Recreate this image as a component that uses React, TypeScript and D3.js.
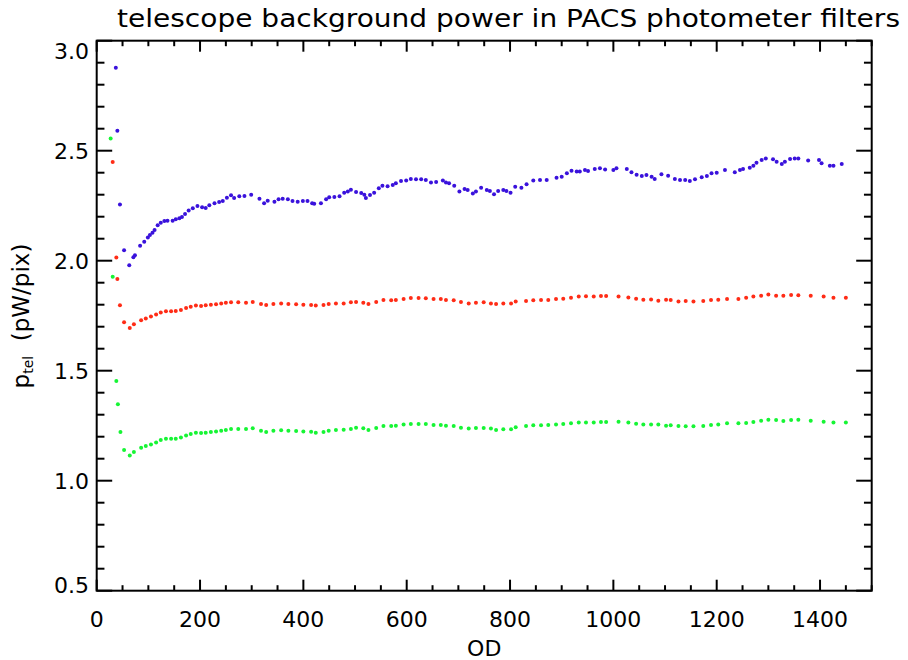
import React from "react";
import * as d3 from "d3";

// ---------- data ----------
const TITLE = "telescope background power in PACS photometer filters";
const X_LABEL = "OD";
const X_DOMAIN = [0, 1500];
const Y_DOMAIN = [0.5, 3.0];
const X_TICKS = [0, 200, 400, 600, 800, 1000, 1200, 1400];
const Y_TICKS = [0.5, 1.0, 1.5, 2.0, 2.5, 3.0];

const blueOD = [37, 40, 45, 53, 63, 71, 74, 84, 92, 99, 103, 108, 112, 118, 124, 131, 137, 147, 153, 160, 165, 171, 178, 186, 195, 204, 211, 218, 228, 237, 244, 252, 260, 266, 276, 286, 299, 315, 324, 331, 344, 352, 360, 370, 379, 389, 399, 408, 417, 421, 434, 444, 450, 460, 470, 479, 486, 492, 502, 512, 518, 521, 529, 537, 546, 553, 563, 573, 579, 589, 599, 608, 618, 628, 637, 647, 657, 670, 676, 682, 692, 702, 712, 718, 728, 734, 744, 755, 761, 769, 777, 787, 793, 801, 810, 822, 832, 845, 858, 871, 890, 900, 910, 919, 929, 935, 945, 951, 964, 974, 984, 1000, 1006, 1026, 1035, 1045, 1055, 1064, 1074, 1080, 1093, 1106, 1119, 1129, 1139, 1148, 1158, 1171, 1181, 1190, 1200, 1216, 1235, 1245, 1251, 1264, 1271, 1277, 1287, 1295, 1309, 1316, 1326, 1332, 1342, 1351, 1358, 1377, 1398, 1403, 1419, 1426, 1442];
const bluePower = [2.877, 2.591, 2.256, 2.047, 1.979, 2.016, 2.025, 2.068, 2.086, 2.106, 2.117, 2.127, 2.140, 2.161, 2.173, 2.180, 2.182, 2.182, 2.188, 2.193, 2.199, 2.212, 2.228, 2.238, 2.249, 2.243, 2.240, 2.252, 2.261, 2.267, 2.271, 2.286, 2.297, 2.285, 2.293, 2.294, 2.300, 2.282, 2.261, 2.273, 2.268, 2.279, 2.282, 2.279, 2.271, 2.268, 2.271, 2.271, 2.261, 2.259, 2.261, 2.279, 2.288, 2.290, 2.293, 2.309, 2.315, 2.323, 2.312, 2.308, 2.300, 2.285, 2.299, 2.309, 2.329, 2.341, 2.338, 2.344, 2.352, 2.362, 2.364, 2.371, 2.370, 2.370, 2.367, 2.356, 2.358, 2.365, 2.356, 2.352, 2.341, 2.314, 2.326, 2.321, 2.306, 2.315, 2.332, 2.321, 2.317, 2.302, 2.317, 2.321, 2.317, 2.309, 2.336, 2.332, 2.347, 2.364, 2.367, 2.367, 2.377, 2.382, 2.397, 2.409, 2.405, 2.405, 2.412, 2.408, 2.417, 2.420, 2.415, 2.412, 2.420, 2.417, 2.402, 2.391, 2.385, 2.390, 2.382, 2.371, 2.393, 2.386, 2.371, 2.367, 2.367, 2.362, 2.370, 2.379, 2.385, 2.397, 2.400, 2.412, 2.402, 2.412, 2.417, 2.423, 2.432, 2.445, 2.458, 2.465, 2.461, 2.450, 2.440, 2.450, 2.462, 2.465, 2.464, 2.455, 2.458, 2.443, 2.432, 2.432, 2.440];

const redOD = [31, 38, 40, 45, 53, 64, 72, 86, 95, 105, 115, 124, 134, 144, 153, 163, 173, 182, 192, 202, 211, 221, 231, 241, 250, 260, 274, 289, 302, 318, 328, 342, 357, 371, 386, 400, 415, 424, 439, 449, 463, 478, 492, 502, 516, 526, 541, 555, 570, 579, 594, 608, 623, 637, 652, 666, 676, 691, 705, 720, 734, 749, 763, 773, 787, 802, 811, 831, 845, 860, 874, 889, 903, 918, 933, 947, 962, 976, 986, 1010, 1029, 1044, 1058, 1073, 1087, 1102, 1111, 1126, 1140, 1155, 1174, 1189, 1203, 1220, 1242, 1257, 1271, 1286, 1300, 1315, 1329, 1344, 1358, 1382, 1407, 1426, 1450];
const redPower = [2.449, 2.015, 1.917, 1.797, 1.720, 1.694, 1.711, 1.729, 1.737, 1.746, 1.756, 1.765, 1.770, 1.770, 1.771, 1.776, 1.785, 1.791, 1.796, 1.794, 1.797, 1.800, 1.802, 1.805, 1.809, 1.811, 1.811, 1.809, 1.812, 1.803, 1.799, 1.803, 1.805, 1.803, 1.802, 1.800, 1.799, 1.796, 1.799, 1.803, 1.806, 1.806, 1.811, 1.812, 1.809, 1.803, 1.812, 1.821, 1.820, 1.821, 1.826, 1.830, 1.830, 1.829, 1.826, 1.826, 1.821, 1.820, 1.812, 1.806, 1.809, 1.811, 1.806, 1.803, 1.806, 1.805, 1.815, 1.817, 1.820, 1.821, 1.821, 1.826, 1.827, 1.832, 1.837, 1.838, 1.837, 1.840, 1.840, 1.837, 1.833, 1.827, 1.823, 1.824, 1.818, 1.823, 1.821, 1.815, 1.817, 1.815, 1.817, 1.821, 1.823, 1.826, 1.826, 1.832, 1.837, 1.841, 1.846, 1.841, 1.841, 1.844, 1.843, 1.841, 1.837, 1.832, 1.832];

const greenOD = [27, 31, 38, 41, 46, 53, 64, 72, 86, 95, 105, 115, 124, 134, 144, 153, 163, 173, 182, 192, 202, 211, 221, 231, 241, 250, 260, 274, 289, 302, 318, 328, 342, 357, 371, 386, 400, 415, 424, 439, 449, 463, 478, 492, 502, 516, 526, 541, 555, 570, 579, 594, 608, 623, 637, 652, 666, 676, 691, 705, 720, 734, 749, 763, 773, 787, 802, 811, 831, 845, 860, 874, 889, 903, 918, 933, 947, 962, 976, 986, 1010, 1029, 1044, 1058, 1073, 1087, 1102, 1111, 1126, 1140, 1155, 1174, 1189, 1203, 1220, 1242, 1257, 1271, 1286, 1300, 1315, 1329, 1344, 1358, 1382, 1407, 1426, 1450];
const greenPower = [2.555, 1.927, 1.453, 1.347, 1.221, 1.140, 1.114, 1.130, 1.150, 1.158, 1.165, 1.174, 1.185, 1.191, 1.191, 1.191, 1.196, 1.205, 1.212, 1.218, 1.217, 1.218, 1.221, 1.224, 1.227, 1.230, 1.235, 1.235, 1.235, 1.238, 1.227, 1.221, 1.227, 1.229, 1.227, 1.226, 1.224, 1.223, 1.218, 1.221, 1.227, 1.230, 1.232, 1.235, 1.241, 1.238, 1.230, 1.240, 1.249, 1.249, 1.250, 1.255, 1.258, 1.258, 1.258, 1.253, 1.253, 1.250, 1.249, 1.241, 1.237, 1.240, 1.240, 1.237, 1.230, 1.234, 1.234, 1.243, 1.249, 1.252, 1.252, 1.253, 1.255, 1.258, 1.261, 1.265, 1.265, 1.264, 1.267, 1.267, 1.268, 1.264, 1.259, 1.256, 1.255, 1.255, 1.250, 1.252, 1.249, 1.247, 1.247, 1.249, 1.253, 1.255, 1.261, 1.261, 1.262, 1.267, 1.273, 1.277, 1.276, 1.271, 1.276, 1.277, 1.273, 1.268, 1.265, 1.265];

const SERIES = [
  { name: "blue", od: blueOD, p: bluePower, color: "#3a12dc" },
  { name: "red", od: redOD, p: redPower, color: "#ff2c16" },
  { name: "green", od: greenOD, p: greenPower, color: "#16f534" },
];

// ---------- layout ----------
const W = 908;
const H = 660;
const LEFT = 96.7;
const RIGHT = 871.7;
const TOP = 40.7;
const BOTTOM = 590.7;
const FONT = "'DejaVu Sans', sans-serif";

export default function App() {
  const x = d3.scaleLinear().domain(X_DOMAIN).range([LEFT, RIGHT]);
  const y = d3.scaleLinear().domain(Y_DOMAIN).range([BOTTOM, TOP]);

  const xMinor = d3.range(X_DOMAIN[0], X_DOMAIN[1] + 1, 50).filter((v) => v % 200 !== 0);
  const yMinor = d3.range(5, 31, 1).map((v) => v / 10).filter((v) => Math.round(v * 10) % 5 !== 0);

  const xMajLen = 11;
  const yMajLen = 15.5;
  const axisStroke = { stroke: "#000", strokeWidth: 2 };

  return (
    <svg
      width={W}
      height={H}
      viewBox={`0 0 ${W} ${H}`}
      style={{ position: "fixed", left: 0, top: 0, background: "#fff" }}
    >
      <rect x={0} y={0} width={W} height={H} fill="#fff" />
      <defs>
        <clipPath id="plot">
          <rect x={LEFT} y={TOP} width={RIGHT - LEFT} height={BOTTOM - TOP} />
        </clipPath>
      </defs>

      {/* title */}
      <text
        x={117}
        y={27}
        fontFamily={FONT}
        fontSize={25}
        textLength={783}
        lengthAdjust="spacingAndGlyphs"
        fill="#000"
      >
        {TITLE}
      </text>

      {/* data */}
      <g clipPath="url(#plot)">
        {SERIES.map((s) => (
          <g key={s.name} fill={s.color}>
            {s.od.map((d, i) => (
              <circle key={i} cx={x(d)} cy={y(s.p[i])} r={2} />
            ))}
          </g>
        ))}
      </g>

      {/* axes box */}
      <rect x={LEFT} y={TOP} width={RIGHT - LEFT} height={BOTTOM - TOP} fill="none" {...axisStroke} />

      {/* x ticks */}
      {X_TICKS.map((t) => (
        <g key={"xt" + t}>
          <line x1={x(t)} x2={x(t)} y1={BOTTOM} y2={BOTTOM - xMajLen} {...axisStroke} />
          <line x1={x(t)} x2={x(t)} y1={TOP} y2={TOP + xMajLen} {...axisStroke} />
          <text x={x(t)} y={627} textAnchor="middle" fontFamily={FONT} fontSize={22} fill="#000">
            {t}
          </text>
        </g>
      ))}
      {xMinor.map((t) => (
        <g key={"xm" + t}>
          <line x1={x(t)} x2={x(t)} y1={BOTTOM} y2={BOTTOM - xMajLen / 2} {...axisStroke} />
          <line x1={x(t)} x2={x(t)} y1={TOP} y2={TOP + xMajLen / 2} {...axisStroke} />
        </g>
      ))}

      {/* y ticks */}
      {Y_TICKS.map((t) => {
        const c = Math.min(Math.max(y(t), TOP + 10), BOTTOM - 6);
        return (
          <g key={"yt" + t}>
            <line x1={LEFT} x2={LEFT + yMajLen} y1={y(t)} y2={y(t)} {...axisStroke} />
            <line x1={RIGHT} x2={RIGHT - yMajLen} y1={y(t)} y2={y(t)} {...axisStroke} />
            <text x={89} y={c + 8} textAnchor="end" fontFamily={FONT} fontSize={22} fill="#000">
              {t.toFixed(1)}
            </text>
          </g>
        );
      })}
      {yMinor.map((t) => (
        <g key={"ym" + t}>
          <line x1={LEFT} x2={LEFT + yMajLen / 2} y1={y(t)} y2={y(t)} {...axisStroke} />
          <line x1={RIGHT} x2={RIGHT - yMajLen / 2} y1={y(t)} y2={y(t)} {...axisStroke} />
        </g>
      ))}

      {/* axis titles */}
      <text x={(LEFT + RIGHT) / 2} y={656} textAnchor="middle" fontFamily={FONT} fontSize={22} fill="#000">
        {X_LABEL}
      </text>
      <text
        transform={`translate(29,316) rotate(-90)`}
        textAnchor="middle"
        fontFamily={FONT}
        fontSize={23}
        fill="#000"
        style={{ whiteSpace: "pre" }}
      >
        p
        <tspan fontSize={14} dy={4}>tel</tspan>
        <tspan dy={-4}>{"  (pW/pix)"}</tspan>
      </text>
    </svg>
  );
}
